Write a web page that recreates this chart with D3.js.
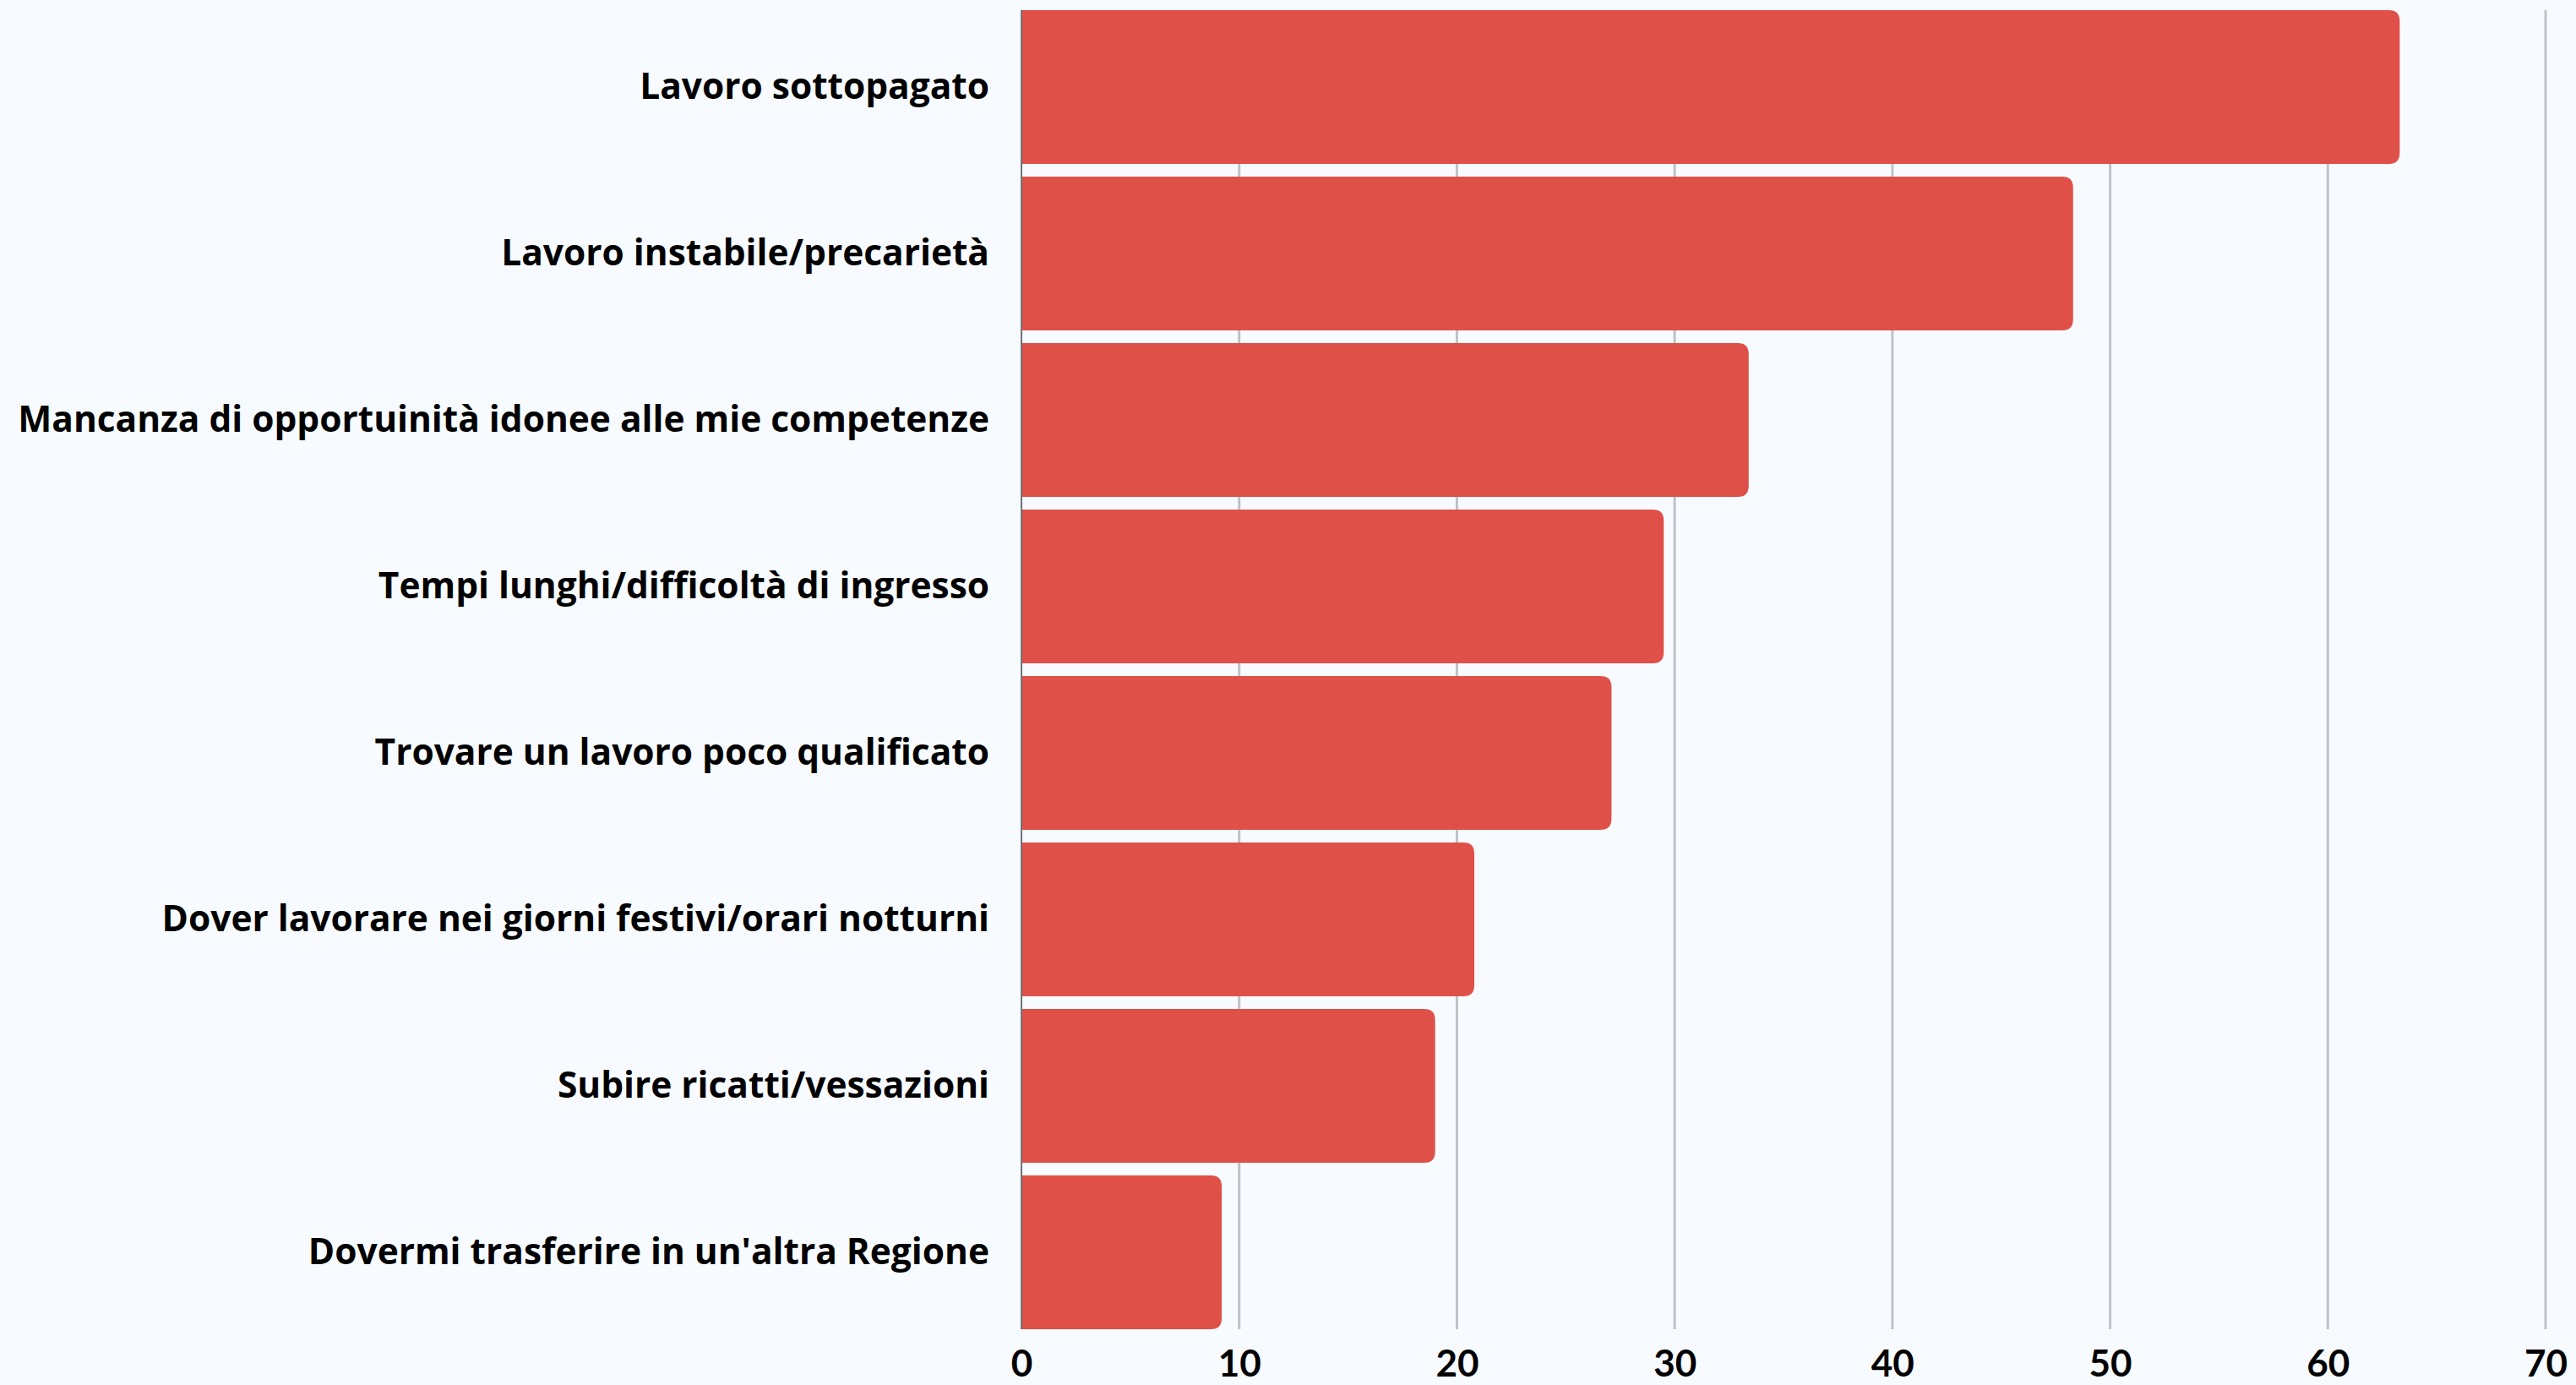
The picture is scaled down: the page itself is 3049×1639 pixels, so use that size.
<!DOCTYPE html>
<html>
<head>
<meta charset="utf-8">
<script src="https://cdn.jsdelivr.net/npm/d3@7"></script>
<style>
  html, body { margin: 0; padding: 0; background: #f7fbff; }
  svg { display: block; }
</style>
</head>
<body>
<svg id="chart" width="3049" height="1639"></svg>
<script>
const categories = [
  "Lavoro sottopagato",
  "Lavoro instabile/precarietà",
  "Mancanza di opportuinità idonee alle mie competenze",
  "Tempi lunghi/difficoltà di ingresso",
  "Trovare un lavoro poco qualificato",
  "Dover lavorare nei giorni festivi/orari notturni",
  "Subire ricatti/vessazioni",
  "Dovermi trasferire in un'altra Regione"
];
const values = [63.3, 48.3, 33.4, 29.5, 27.1, 20.8, 19.0, 9.2];
const tickValues = [0, 10, 20, 30, 40, 50, 60, 70];

const W = 3049, H = 1639;
const margin = { left: 1209, right: 36, top: 12, bottom: 66 };
const svg = d3.select("#chart");
svg.append("rect").attr("width", W).attr("height", H).attr("fill", "#f7fbff");

const x = d3.scaleLinear().domain([0, 70]).range([margin.left, W - margin.right]);
const y = d3.scaleBand().domain(categories)
  .range([margin.top, H - margin.bottom])
  .paddingInner(15 / 197).paddingOuter(0);

// gridlines
const grid = svg.append("g");
grid.selectAll("line").data(tickValues.filter(d => d > 0)).join("line")
  .attr("x1", d => x(d)).attr("x2", d => x(d))
  .attr("y1", margin.top).attr("y2", H - margin.bottom)
  .attr("stroke", "#bfc2c6").attr("stroke-width", 3);

// bars with rounded right end
const r = 13;
function barPath(d, i) {
  const x0 = x(0), x1 = x(d), y0 = y(categories[i]), h = y.bandwidth();
  const rr = Math.min(r, (x1 - x0));
  return `M${x0},${y0}H${x1 - rr}Q${x1},${y0} ${x1},${y0 + rr}V${y0 + h - rr}Q${x1},${y0 + h} ${x1 - rr},${y0 + h}H${x0}Z`;
}
svg.append("g").selectAll("path").data(values).join("path")
  .attr("d", (d, i) => barPath(d, i))
  .attr("fill", "#df5148");

// y axis line
svg.append("line")
  .attr("x1", x(0)).attr("x2", x(0))
  .attr("y1", margin.top).attr("y2", H - margin.bottom)
  .attr("stroke", "#6f7378").attr("stroke-width", 2);

// category labels
const yAxis = d3.axisLeft(y).tickSize(0).tickPadding(38);
const gy = svg.append("g").attr("transform", `translate(${x(0)},0)`).call(yAxis);
gy.select(".domain").remove();
const labels = gy.selectAll("text")
  .attr("font-family", "'Open Sans', Lato, sans-serif")
  .attr("font-weight", 700)
  .attr("font-size", 44)
  .attr("fill", "#000")
  .attr("dy", "0.34em");
// fit the longest label to the reference width
let maxW = 0;
labels.each(function() { maxW = Math.max(maxW, this.getComputedTextLength()); });
const fs = Math.max(38, Math.min(50, 44 * 1150 / maxW));
labels.attr("font-size", fs);

// x axis labels
const xAxis = d3.axisBottom(x).tickValues(tickValues).tickSize(0).tickPadding(0).tickFormat(d3.format("d"));
const gx = svg.append("g").attr("transform", `translate(0,${H - margin.bottom})`).call(xAxis);
gx.select(".domain").remove();
gx.selectAll("text")
  .attr("font-family", "Lato, 'Open Sans', sans-serif")
  .attr("font-weight", 700)
  .attr("font-size", 44)
  .attr("fill", "#000")
  .attr("y", 56)
  .attr("dy", 0);
</script>
</body>
</html>
